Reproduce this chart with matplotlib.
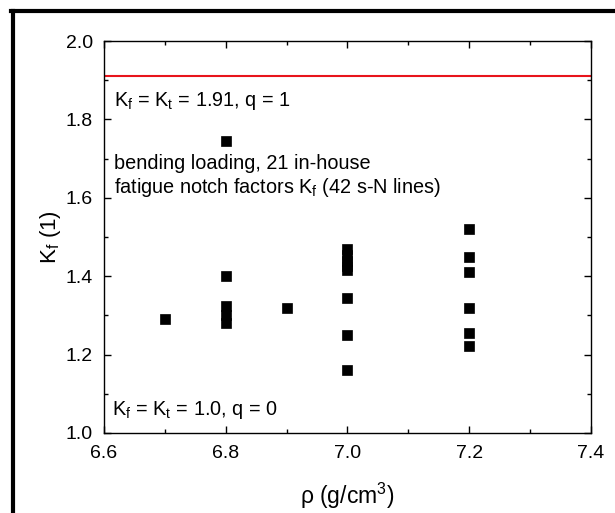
import matplotlib
matplotlib.use("Agg")
import matplotlib.pyplot as plt
from matplotlib.lines import Line2D
from matplotlib.ticker import MultipleLocator

plt.rcParams['font.family'] = ['Liberation Sans', 'DejaVu Sans']
plt.rcParams['mathtext.fontset'] = 'custom'
plt.rcParams['mathtext.rm'] = 'Liberation Sans'
plt.rcParams['mathtext.it'] = 'Liberation Sans'

# density (g/cm3) and fatigue notch factor Kf
density = [6.7,
           6.8, 6.8, 6.8, 6.8, 6.8,
           6.9,
           7.0, 7.0, 7.0, 7.0, 7.0, 7.0, 7.0, 7.0,
           7.2, 7.2, 7.2, 7.2, 7.2, 7.2]
kf = [1.29,
      1.745, 1.40, 1.325, 1.30, 1.28,
      1.32,
      1.47, 1.455, 1.44, 1.425, 1.415, 1.345, 1.25, 1.16,
      1.52, 1.45, 1.41, 1.32, 1.255, 1.222]
kt = 1.91

fig = plt.figure(figsize=(6.15, 5.13), dpi=100)
ax = fig.add_axes([0.169, 0.156, 0.792, 0.764])

ax.axhline(kt, color='#e8141b', lw=1.5, zorder=2)
ax.plot(density, kf, ls='none', marker='s', ms=7.8, mew=0.5, color='black', zorder=3)

ax.set_xlim(6.6, 7.4)
ax.set_ylim(1.0, 2.0)
ax.xaxis.set_major_locator(MultipleLocator(0.2))
ax.xaxis.set_minor_locator(MultipleLocator(0.1))
ax.yaxis.set_major_locator(MultipleLocator(0.2))
ax.yaxis.set_minor_locator(MultipleLocator(0.1))
ax.tick_params(which='both', direction='in', top=True, right=True, labelsize=14)
ax.tick_params(which='major', length=5, width=1)
ax.tick_params(which='minor', length=3, width=1)
ax.tick_params(axis='x', pad=8.5)
ax.tick_params(axis='y', pad=8)
for s in ax.spines.values():
    s.set_linewidth(1.0)

ax.set_xlabel(r'ρ (g/cm$^\mathregular{3}$)', fontsize=16.5, labelpad=14)
ax.set_ylabel(r'K$_\mathregular{f}$ (1)', fontsize=16, labelpad=2)

ax.text(0.02, 0.834, r'K$_\mathregular{f}$ = K$_\mathregular{t}$ = 1.91, q = 1',
        transform=ax.transAxes, fontsize=14.3, va='baseline')
ax.text(0.02, 0.673, 'bending loading, 21 in-house',
        transform=ax.transAxes, fontsize=14.3, va='baseline')
ax.text(0.02, 0.612, r'fatigue notch factors K$_\mathregular{f}$ (42 s-N lines)',
        transform=ax.transAxes, fontsize=14.3, va='baseline')
ax.text(0.016, 0.046, r'K$_\mathregular{f}$ = K$_\mathregular{t}$ = 1.0, q = 0',
        transform=ax.transAxes, fontsize=14.3, va='baseline')

# frame lines at top and left of the picture
fig.add_artist(Line2D([13 / 615, 13 / 615], [0, 1 - 11 / 513],
                      transform=fig.transFigure, color='black', lw=3))
fig.add_artist(Line2D([11 / 615, 1], [1 - 11 / 513, 1 - 11 / 513],
                      transform=fig.transFigure, color='black', lw=3))

fig.savefig('out.png', dpi=100)
